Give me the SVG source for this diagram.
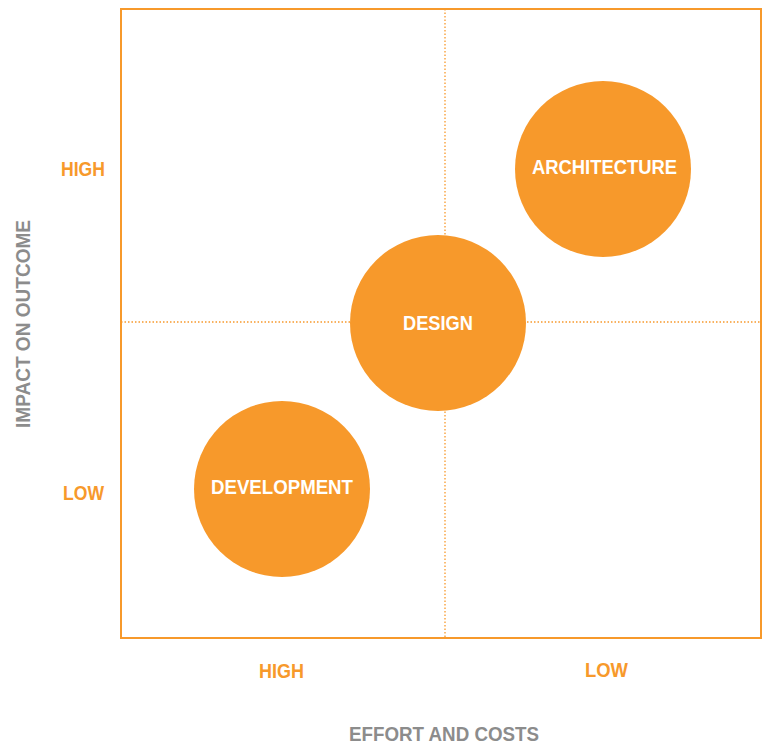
<svg xmlns="http://www.w3.org/2000/svg" width="762" height="746" viewBox="0 0 762 746">
<style>
.frame{fill:none;stroke:#F7992B;stroke-width:2}
.dot{stroke:#F7992B;stroke-width:1.3;stroke-dasharray:1.5 2;fill:none}
.bub{fill:#F7992B}
.in{font-family:"Liberation Sans",Arial,sans-serif;font-weight:bold;font-size:21px;fill:#fff;text-anchor:middle}
.ax{font-family:"Liberation Sans",Arial,sans-serif;font-weight:bold;font-size:21px;fill:#F7992B;text-anchor:middle}
.tt{font-family:"Liberation Sans",Arial,sans-serif;font-weight:bold;font-size:21px;fill:#8C8C8C;text-anchor:middle}
</style>
<rect width="762" height="746" fill="#fff"/>
<g id="connectors">
<line class="dot" x1="445" y1="9" x2="445" y2="638"/>
<line class="dot" x1="121" y1="322" x2="761" y2="322"/>
</g>
<rect class="frame" x="121" y="9" width="640" height="629"/>
<g id="architecture">
<circle class="bub" cx="603" cy="169" r="88"/>
<text class="in" x="604.5" y="174" textLength="145" lengthAdjust="spacingAndGlyphs">ARCHITECTURE</text>
</g>
<g id="design">
<circle class="bub" cx="438" cy="323" r="88"/>
<text class="in" x="438" y="330" textLength="70" lengthAdjust="spacingAndGlyphs">DESIGN</text>
</g>
<g id="development">
<circle class="bub" cx="282" cy="489" r="88"/>
<text class="in" x="282" y="494" textLength="142" lengthAdjust="spacingAndGlyphs">DEVELOPMENT</text>
</g>
<g id="labels">
<text class="ax" x="83" y="176" textLength="44" lengthAdjust="spacingAndGlyphs">HIGH</text>
<text class="ax" x="83.5" y="500" textLength="41" lengthAdjust="spacingAndGlyphs">LOW</text>
<text class="ax" x="281.5" y="678" textLength="45" lengthAdjust="spacingAndGlyphs">HIGH</text>
<text class="ax" x="606.5" y="677" textLength="43" lengthAdjust="spacingAndGlyphs">LOW</text>
<text class="tt" x="444" y="741" textLength="190" lengthAdjust="spacingAndGlyphs">EFFORT AND COSTS</text>
<text class="tt" transform="translate(30,324) rotate(-90)" x="0" y="0" textLength="208" lengthAdjust="spacingAndGlyphs">IMPACT ON OUTCOME</text>
</g>
</svg>
